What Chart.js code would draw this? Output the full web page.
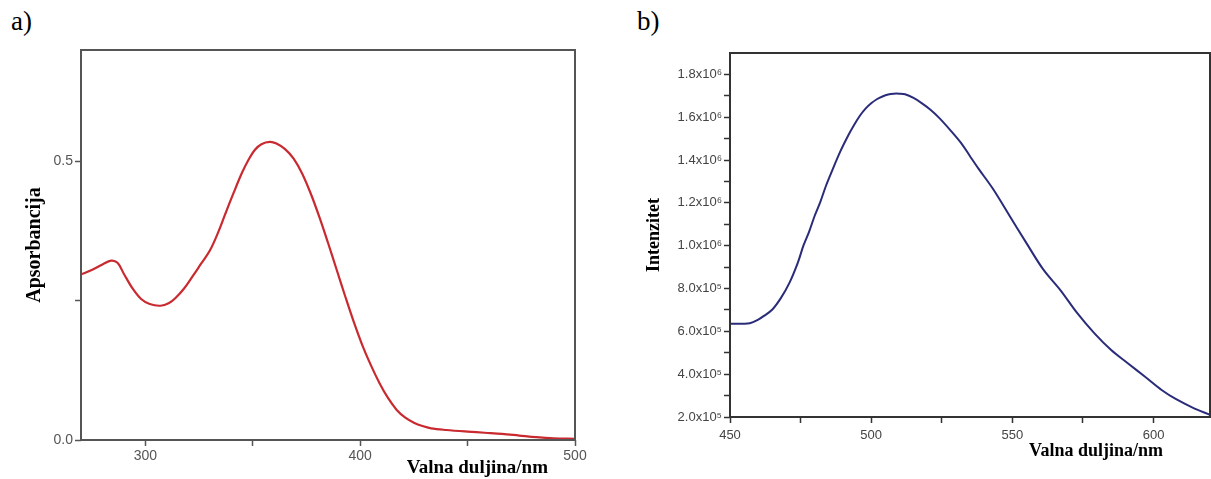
<!DOCTYPE html>
<html>
<head>
<meta charset="utf-8">
<script src="https://cdn.jsdelivr.net/npm/chart.js@4.4.0/dist/chart.umd.min.js"></script>
<style>
  body { margin: 0; background: #fff; width: 1211px; height: 479px; position: relative; overflow: hidden; }
  .lbl { position: absolute; font-family: 'Liberation Serif', 'Times New Roman', serif; font-size: 27px; line-height: 1; color: #000; }
  #wrapA { position: absolute; left: 0; top: 0; }
  #wrapB { position: absolute; left: 610px; top: 0; }
</style>
</head>
<body>
<div class="lbl" style="left:11px;top:8px">a)</div>
<div class="lbl" style="left:637px;top:8px">b)</div>
<div id="wrapA"><canvas id="chartA" width="610" height="479"></canvas></div>
<div id="wrapB"><canvas id="chartB" width="601" height="479"></canvas></div>
<script>
// a) apsorpcijski spektar
const wlA = [270, 275, 280, 284, 287, 290, 294, 298, 302, 307, 311, 314, 318, 322, 326, 330, 334, 337, 341, 345,
  348, 351, 354, 358, 361, 365, 369, 373, 377, 381, 385, 389, 393, 397, 401, 405, 409, 413, 417, 421,
  425, 429, 433, 440, 450, 458, 466, 474, 482, 490, 500];
const absA = [0.297, 0.305, 0.315, 0.322, 0.318, 0.298, 0.272, 0.253, 0.244, 0.241, 0.246, 0.255, 0.272, 0.294, 0.317, 0.340, 0.374, 0.404, 0.443, 0.480,
  0.503, 0.521, 0.531, 0.535, 0.532, 0.522, 0.505, 0.478, 0.442, 0.400, 0.354, 0.306, 0.258, 0.212, 0.170, 0.134, 0.102, 0.075, 0.054, 0.040,
  0.031, 0.025, 0.021, 0.018, 0.015, 0.013, 0.011, 0.008, 0.005, 0.003, 0.002];
const xTicksA = [300, 350, 400, 450, 500];
const xLabelsA = ['300', '', '400', '', '500'];
const yTicksA = [0, 0.25, 0.5];
const yLabelsA = ['0.0', '', '0.5'];

// b) emisijski spektar
const wlB = [450, 454, 457, 460, 462, 465, 468, 471, 474, 476, 478, 480, 482, 484, 486, 489, 492, 494, 496, 498,
  500, 502, 504, 506, 508, 510, 512, 515, 518, 521, 524, 528, 532, 535, 538, 543, 549, 555, 561, 567,
  573, 579, 585, 591, 597, 603, 608, 614, 620];
const intB = [6.35e5, 6.36e5, 6.38e5, 6.55e5, 6.72e5, 7.02e5, 7.55e5, 8.25e5, 9.2e5, 1.0e6, 1.065e6, 1.14e6, 1.205e6, 1.28e6, 1.345e6, 1.438e6, 1.518e6, 1.565e6, 1.607e6, 1.64e6,
  1.665e6, 1.684e6, 1.697e6, 1.706e6, 1.71e6, 1.71e6, 1.707e6, 1.69e6, 1.665e6, 1.635e6, 1.598e6, 1.54e6, 1.477e6, 1.418e6, 1.36e6, 1.268e6, 1.14e6, 1.012e6, 8.88e5, 7.93e5,
  6.85e5, 5.92e5, 5.13e5, 4.5e5, 3.88e5, 3.25e5, 2.83e5, 2.43e5, 2.1e5];
const xTicksB = [450, 475, 500, 525, 550, 575, 600];
const xLabelsB = ['450', '', '500', '', '550', '', '600'];
const yTicksB = [2e5, 3e5, 4e5, 5e5, 6e5, 7e5, 8e5, 9e5, 1e6, 1.1e6, 1.2e6, 1.3e6, 1.4e6, 1.5e6, 1.6e6, 1.7e6, 1.8e6];
const yLabelsB = ['2.0x10⁵', '', '4.0x10⁵', '', '6.0x10⁵', '', '8.0x10⁵', '', '1.0x10⁶', '', '1.2x10⁶', '', '1.4x10⁶', '', '1.6x10⁶', '', '1.8x10⁶'];

// okvir oko područja grafa
const frame = {
  id: 'frame',
  afterDatasetsDraw(chart, args, opts) {
    const { ctx, chartArea: a } = chart;
    ctx.save();
    ctx.strokeStyle = opts.color;
    ctx.lineWidth = opts.width;
    ctx.strokeRect(a.left, a.top, a.right - a.left, a.bottom - a.top);
    ctx.restore();
  }
};

// naslov x osi, poravnan desno kao u originalu
const xTitle = {
  id: 'xTitle',
  afterDraw(chart, args, opts) {
    const { ctx, chartArea: a } = chart;
    ctx.save();
    ctx.font = opts.font;
    ctx.fillStyle = '#000';
    ctx.textAlign = 'right';
    ctx.textBaseline = 'middle';
    ctx.fillText(opts.text, a.right - opts.offsetRight, opts.y);
    ctx.restore();
  }
};

const pickLabel = (ticks, labels) => (v) => {
  const i = ticks.indexOf(v);
  return i >= 0 ? labels[i] : '';
};

function makeChart(id, cfg) {
  return new Chart(document.getElementById(id), {
    type: 'line',
    data: {
      datasets: [{
        data: cfg.xs.map((x, i) => ({ x: x, y: cfg.ys[i] })),
        borderColor: cfg.color,
        borderWidth: cfg.lineWidth,
        pointRadius: 0,
        tension: 0.35,
        fill: false
      }]
    },
    options: {
      responsive: false,
      animation: false,
      devicePixelRatio: 1,
      layout: { padding: cfg.padding },
      plugins: {
        legend: { display: false },
        tooltip: { enabled: false },
        frame: { color: cfg.frameColor, width: 2 },
        xTitle: cfg.xTitle
      },
      scales: {
        x: {
          type: 'linear',
          min: cfg.xMin,
          max: cfg.xMax,
          afterBuildTicks: (s) => { s.ticks = cfg.xTicks.map(v => ({ value: v })); },
          afterFit: (s) => { s.height = cfg.xHeight; },
          grid: { drawOnChartArea: false, drawTicks: true, tickLength: 6, tickColor: cfg.frameColor, tickWidth: 1.5 },
          border: { display: false },
          ticks: {
            autoSkip: false, maxRotation: 0, padding: cfg.xTickPad,
            color: cfg.tickColor,
            font: { family: 'Liberation Sans, Arial, sans-serif', size: cfg.tickSize },
            callback: pickLabel(cfg.xTicks, cfg.xLabels)
          }
        },
        y: {
          type: 'linear',
          min: cfg.yMin,
          max: cfg.yMax,
          afterBuildTicks: (s) => { s.ticks = cfg.yTicks.map(v => ({ value: v })); },
          afterFit: (s) => { s.width = cfg.yWidth; },
          grid: { drawOnChartArea: false, drawTicks: true, tickLength: 6, tickColor: cfg.frameColor, tickWidth: 1.5 },
          border: { display: false },
          ticks: {
            autoSkip: false, padding: 2,
            color: cfg.tickColor,
            font: { family: 'Liberation Sans, Arial, sans-serif', size: cfg.tickSize },
            callback: pickLabel(cfg.yTicks, cfg.yLabels)
          },
          title: {
            display: true,
            text: cfg.yTitle,
            color: '#000',
            font: { family: 'Liberation Serif, Times New Roman, serif', size: cfg.yTitleSize, weight: 'bold' },
            padding: { top: cfg.yTitlePad, bottom: 0 }
          }
        }
      }
    },
    plugins: [frame, xTitle]
  });
}

makeChart('chartA', {
  xs: wlA, ys: absA,
  color: 'rgb(200, 42, 48)', lineWidth: 2.2,
  frameColor: '#555', tickColor: '#555', tickSize: 14,
  padding: { left: 0, top: 50, right: 35, bottom: 0 },
  xMin: 270, xMax: 500, xTicks: xTicksA, xLabels: xLabelsA, xHeight: 39, xTickPad: 2,
  yMin: 0, yMax: 0.7, yTicks: yTicksA, yLabels: yLabelsA, yWidth: 81,
  yTitle: 'Apsorbancija', yTitleSize: 20, yTitlePad: 23,
  xTitle: { text: 'Valna duljina/nm', font: 'bold 19px "Liberation Serif", "Times New Roman", serif', offsetRight: 27, y: 468 }
});

makeChart('chartB', {
  xs: wlB, ys: intB,
  color: 'rgb(42, 44, 122)', lineWidth: 2,
  frameColor: '#333', tickColor: '#444', tickSize: 13,
  padding: { left: 0, top: 53, right: 1, bottom: 0 },
  xMin: 450, xMax: 620, xTicks: xTicksB, xLabels: xLabelsB, xHeight: 62, xTickPad: 5,
  yMin: 2e5, yMax: 1.9e6, yTicks: yTicksB, yLabels: yLabelsB, yWidth: 120,
  yTitle: 'Intenzitet', yTitleSize: 18, yTitlePad: 34,
  xTitle: { text: 'Valna duljina/nm', font: 'bold 18px "Liberation Serif", "Times New Roman", serif', offsetRight: 47, y: 451 }
});
</script>
</body>
</html>
